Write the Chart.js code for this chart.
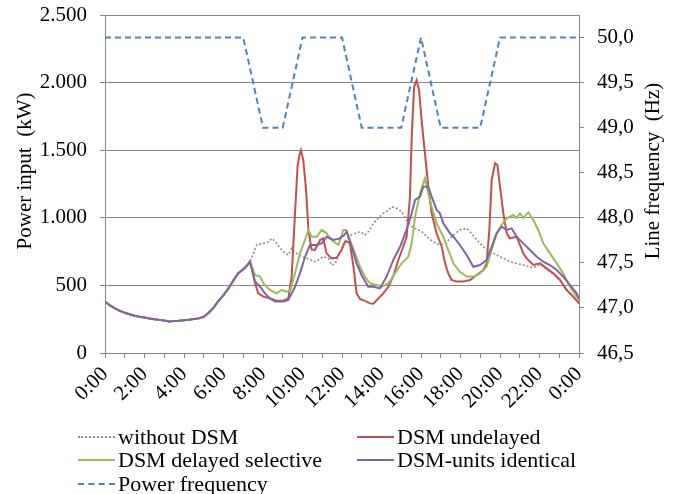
<!DOCTYPE html>
<html>
<head>
<meta charset="utf-8">
<script src="https://cdn.jsdelivr.net/npm/chart.js@4"></script>
<style>
  body { margin: 0; background: #fff; }
  #wrap { position: relative; width: 673px; height: 494px; }
  .item { position: absolute; height: 24px; display: flex; align-items: center;
          font: 22px "Liberation Serif", serif; color: #000; white-space: nowrap; }
  .item span.s { display: inline-block; width: 37px; height: 0; margin-right: 3px; }
</style>
</head>
<body>
<div id="wrap">
  <canvas id="myChart"></canvas>
  <div class="item" style="left:78px;top:425px"><span class="s" style="border-top:2px dotted #8c8c8c"></span>without DSM</div>
  <div class="item" style="left:357px;top:425px"><span class="s" style="border-top:2px solid #c0504d"></span>DSM undelayed</div>
  <div class="item" style="left:78px;top:448px"><span class="s" style="border-top:2px solid #9bbb59"></span>DSM delayed selective</div>
  <div class="item" style="left:357px;top:448px"><span class="s" style="border-top:2px solid #8064a2"></span>DSM-units identical</div>
  <div class="item" style="left:78px;top:472px"><span class="s" style="border-top:2px dashed #4f81bd"></span>Power frequency</div>
</div>
<script>
// shared night/morning load (all four curves coincide until ~7:20)
var morningHours = [0, 0.25, 0.5, 0.75, 1, 1.25, 1.5, 1.75, 2, 2.25, 2.5, 2.75, 3, 3.25, 3.5, 3.75, 4, 4.25, 4.5, 4.75, 5, 5.25, 5.5, 5.75, 6, 6.25, 6.5, 6.75, 7, 7.15, 7.34];
var morningLoad = [378, 352, 330, 312, 298, 287, 276, 268, 262, 255, 249, 245, 240, 233, 237, 239, 243, 246, 251, 256, 268, 298, 335, 385, 428, 478, 536, 590, 620, 640, 675];

var withoutHours = [7.42, 7.51, 7.68, 7.85, 8.02, 8.27, 8.44, 8.6, 8.69, 8.85, 9.03, 9.28, 9.45, 9.6, 9.7, 9.96, 10.21, 10.4, 10.55, 10.8, 11.05, 11.31, 11.47, 11.65, 11.9, 12.1, 12.32, 12.57, 12.91, 13.16, 13.35, 13.59, 13.85, 14.09, 14.3, 14.51, 14.77, 15.02, 15.27, 15.53, 15.78, 16.03, 16.29, 16.62, 16.96, 17.22, 17.47, 17.64, 17.97, 18.31, 18.56, 18.82, 19.16, 19.49, 19.83, 20.17, 20.5, 20.84, 21.18, 21.52, 21.7, 22.03, 22.36, 22.7, 23.04, 23.38, 23.71, 24];
var withoutLoad = [700, 737, 799, 805, 811, 820, 848, 830, 811, 780, 749, 725, 774, 745, 737, 712, 700, 690, 675, 688, 712, 700, 651, 660, 749, 810, 860, 880, 897, 873, 900, 959, 1000, 1033, 1050, 1082, 1070, 1045, 984, 934, 915, 900, 860, 823, 799, 811, 845, 873, 910, 922, 885, 836, 786, 749, 725, 700, 675, 663, 651, 634, 630, 655, 620, 585, 535, 462, 412, 368];

var undelayedHours = [7.5, 7.6, 7.76, 8.02, 8.35, 8.69, 9.03, 9.28, 9.45, 9.62, 9.75, 9.85, 9.92, 10.04, 10.18, 10.3, 10.46, 10.63, 10.89, 11.05, 11.22, 11.47, 11.73, 11.98, 12.15, 12.3, 12.4, 12.57, 12.74, 12.91, 13.16, 13.42, 13.59, 13.84, 14.09, 14.35, 14.6, 14.85, 15.1, 15.27, 15.44, 15.53, 15.65, 15.78, 15.9, 16.03, 16.2, 16.37, 16.54, 16.79, 17.05, 17.22, 17.38, 17.55, 17.8, 18.14, 18.48, 18.82, 19.16, 19.32, 19.46, 19.58, 19.75, 19.87, 20, 20.17, 20.34, 20.5, 20.84, 21.01, 21.18, 21.35, 21.69, 22.03, 22.36, 22.7, 23.04, 23.38, 23.71, 24];
var undelayedLoad = [580, 515, 441, 417, 404, 387, 387, 404, 565, 1033, 1378, 1470, 1501, 1427, 1206, 910, 765, 762, 836, 848, 737, 700, 705, 762, 823, 823, 811, 650, 441, 400, 385, 367, 365, 404, 441, 490, 570, 688, 786, 860, 1150, 1600, 1970, 2019, 1945, 1723, 1477, 1230, 1033, 885, 786, 663, 589, 540, 528, 528, 540, 577, 614, 663, 910, 1280, 1403, 1390, 1230, 1033, 885, 848, 860, 799, 737, 700, 651, 663, 626, 589, 540, 466, 417, 367];

var selectiveHours = [7.6, 7.85, 8.02, 8.35, 8.69, 8.94, 9.2, 9.37, 9.62, 9.87, 10.13, 10.3, 10.46, 10.72, 10.97, 11.22, 11.47, 11.81, 12.07, 12.2, 12.4, 12.66, 12.91, 13.16, 13.42, 13.76, 14.01, 14.35, 14.68, 15.02, 15.36, 15.53, 15.7, 15.95, 16.2, 16.37, 16.54, 16.79, 17.13, 17.3, 17.47, 17.64, 17.97, 18.31, 18.65, 18.99, 19.32, 19.58, 19.83, 20.08, 20.34, 20.67, 20.84, 21.01, 21.18, 21.3, 21.44, 21.69, 21.94, 22.19, 22.53, 22.87, 23.2, 23.54, 23.88, 24];
var selectiveLoad = [577, 565, 515, 466, 441, 466, 454, 460, 589, 737, 836, 910, 860, 860, 910, 885, 836, 799, 910, 910, 836, 737, 638, 565, 515, 503, 490, 515, 589, 663, 712, 811, 1008, 1181, 1292, 1181, 1082, 959, 860, 790, 730, 663, 601, 565, 565, 589, 638, 762, 885, 947, 996, 1021, 1000, 1033, 1000, 1020, 1040, 984, 910, 811, 737, 663, 589, 490, 417, 390];

var identicalHours = [7.6, 7.85, 8.1, 8.35, 8.61, 9.03, 9.28, 9.62, 9.87, 10.13, 10.38, 10.72, 10.97, 11.22, 11.56, 11.9, 12.1, 12.24, 12.49, 12.74, 12.99, 13.33, 13.59, 13.92, 14.26, 14.6, 14.94, 15.27, 15.53, 15.7, 15.95, 16.12, 16.37, 16.54, 16.79, 16.96, 17.13, 17.3, 17.47, 17.64, 17.97, 18.31, 18.65, 18.99, 19.32, 19.58, 19.83, 20.08, 20.34, 20.59, 20.84, 21.18, 21.52, 21.86, 22.19, 22.53, 22.87, 23.2, 23.54, 23.88, 24];
var identicalLoad = [528, 490, 441, 404, 380, 380, 392, 490, 589, 712, 799, 799, 811, 860, 836, 848, 870, 897, 786, 663, 577, 490, 490, 478, 565, 688, 786, 910, 1033, 1132, 1156, 1230, 1230, 1156, 1058, 1033, 959, 922, 885, 860, 799, 725, 638, 651, 688, 786, 885, 934, 910, 922, 860, 811, 762, 712, 675, 651, 614, 565, 503, 441, 405];

var freqHours = [0, 7, 8, 9, 10, 12, 13, 15, 16, 17, 19, 20, 24];
var freqValues = [50, 50, 49, 49, 50, 50, 49, 49, 50, 49, 49, 50, 50];

var freqTicks = [46.5, 47, 47.5, 48, 48.5, 49, 49.5, 50];

function points(hours, values) {
    return hours.map(function (h, i) { return { x: h, y: values[i] }; });
}
function withMorning(hours, values) {
    return points(morningHours, morningLoad).concat(points(hours, values));
}

var FONT = { family: '"Liberation Serif", serif', size: 21 };
var GRID = '#878787';

var axisTitles = {
    id: 'axisTitles',
    afterDraw: function (chart) {
        var c = chart.ctx;
        c.save();
        c.font = '21px "Liberation Serif", serif';
        c.fillStyle = '#000';
        c.textAlign = 'center';
        c.textBaseline = 'middle';
        c.translate(25, 171);
        c.rotate(-Math.PI / 2);
        c.fillText('Power input  (kW)', 0, 0);
        c.restore();
        c.save();
        c.font = '21px "Liberation Serif", serif';
        c.fillStyle = '#000';
        c.textAlign = 'center';
        c.textBaseline = 'middle';
        c.translate(653, 171);
        c.rotate(-Math.PI / 2);
        c.fillText('Line frequency  (Hz)', 0, 0);
        c.restore();
    }
};

function noPad(s) {
    s.paddingTop = 0;
    s.paddingBottom = 0;
    s.paddingLeft = 0;
    s.paddingRight = 0;
}

var ctx = document.getElementById('myChart').getContext('2d');
var myChart = new Chart(ctx, {
    type: 'line',
    data: {
        datasets: [{
            label: 'without DSM',
            data: withMorning(withoutHours, withoutLoad),
            borderColor: '#8c8c8c',
            borderWidth: 1.6,
            borderDash: [2, 2],
            order: 4
        }, {
            label: 'DSM undelayed',
            data: withMorning(undelayedHours, undelayedLoad),
            borderColor: '#c0504d',
            borderWidth: 2,
            order: 3
        }, {
            label: 'DSM delayed selective',
            data: withMorning(selectiveHours, selectiveLoad),
            borderColor: '#9bbb59',
            borderWidth: 2,
            order: 2
        }, {
            label: 'DSM-units identical',
            data: withMorning(identicalHours, identicalLoad),
            borderColor: '#8064a2',
            borderWidth: 2,
            order: 1
        }, {
            label: 'Power frequency',
            data: points(freqHours, freqValues),
            borderColor: '#4f81bd',
            borderWidth: 2,
            borderDash: [6, 4],
            yAxisID: 'y2',
            order: 0
        }]
    },
    options: {
        responsive: true,
        maintainAspectRatio: false,
        animation: false,
        layout: { padding: { top: 15, left: 0, right: 0, bottom: 0 } },
        elements: { point: { radius: 0 }, line: { tension: 0, fill: false } },
        plugins: {
            legend: { display: false },
            tooltip: { enabled: false }
        },
        scales: {
            x: {
                type: 'linear',
                min: 0,
                max: 24,
                afterFit: function (s) { s.height = 141; noPad(s); },
                border: { color: GRID },
                grid: { drawOnChartArea: false, color: GRID, tickLength: 5 },
                ticks: {
                    stepSize: 1,
                    autoSkip: false,
                    maxRotation: 45,
                    minRotation: 45,
                    padding: 4,
                    color: '#000',
                    font: FONT,
                    callback: function (v) { return v % 2 === 0 ? (v % 24) + ':00' : ''; }
                }
            },
            y: {
                position: 'left',
                min: 0,
                max: 2500,
                afterFit: function (s) { s.width = 105; noPad(s); },
                border: { color: GRID },
                grid: { color: GRID, tickLength: 5 },
                ticks: {
                    stepSize: 500,
                    padding: 13,
                    color: '#000',
                    font: FONT,
                    callback: function (v) {
                        return v >= 1000 ? Math.floor(v / 1000) + '.' + String(v % 1000).padStart(3, '0') : String(v);
                    }
                }
            },
            y2: {
                position: 'right',
                min: 46.5,
                max: 50.25,
                afterFit: function (s) { s.width = 94; noPad(s); },
                afterBuildTicks: function (s) {
                    s.ticks = freqTicks.map(function (v) { return { value: v }; });
                },
                border: { color: GRID },
                grid: { drawOnChartArea: false, color: GRID, tickLength: 5 },
                ticks: {
                    padding: 13,
                    color: '#000',
                    font: FONT,
                    callback: function (v) { return v.toFixed(1).replace('.', ','); }
                }
            }
        }
    },
    plugins: [axisTitles]
});
</script>
</body>
</html>
